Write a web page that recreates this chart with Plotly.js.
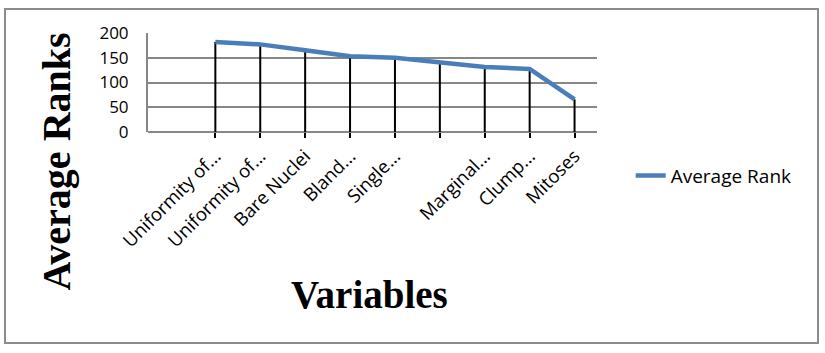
<!DOCTYPE html>
<html>
<head>
<meta charset="utf-8">
<script src="https://cdn.plot.ly/plotly-3.0.1.min.js"></script>
<style>
  html, body { margin: 0; padding: 0; background: #fff; }
  #wrap { position: relative; width: 825px; height: 353px; }
  #chart { width: 825px; height: 353px; }
  #frame { position: absolute; left: 4px; top: 8px; width: 811px; height: 332px;
           border: 2px solid #8c8c8c; pointer-events: none; }
</style>
</head>
<body>
<div id="wrap">
  <div id="chart"></div>
  <div id="frame"></div>
</div>
<script>
// category positions (position 0 is an empty leading category)
const positions = [1, 2, 3, 4, 5, 6, 7, 8, 9];
const tickLabels = ["Uniformity of...", "Uniformity of...", "Bare Nuclei", "Bland...", "Single...", "", "Marginal...", "Clump...", "Mitoses"];
const averageRank = [182, 177, 165, 153, 150, 141, 131.5, 127.5, 66];
const yTicks = [0, 50, 100, 150, 200];
const xTitle = 'Variables';
const yTitle = 'Average Ranks';
const seriesName = 'Average Rank';

const zeros = averageRank.map(() => 0);

const trace = {
  x: positions,
  y: averageRank,
  type: 'scatter',
  mode: 'lines',
  name: seriesName,
  line: { color: '#4a7ebb', width: 4.5 },
  error_y: {
    type: 'data',
    symmetric: false,
    array: zeros,
    arrayminus: averageRank,
    color: '#000000',
    thickness: 2,
    width: 0
  }
};

const serif = 'Liberation Serif, Times New Roman, serif';
const sans = 'Open Sans, sans-serif';

const layout = {
  width: 825,
  height: 353,
  margin: { l: 148, r: 228, t: 33, b: 221 },
  paper_bgcolor: '#ffffff',
  plot_bgcolor: '#ffffff',
  font: { family: sans, size: 17, color: '#000' },
  showlegend: true,
  legend: {
    x: 1.075, xanchor: 'left', y: -0.44, yanchor: 'middle',
    font: { family: sans, size: 19, color: '#000' },
    bgcolor: 'rgba(0,0,0,0)'
  },
  xaxis: {
    range: [-0.5, 9.5],
    tickmode: 'array',
    tickvals: positions,
    ticktext: tickLabels,
    tickangle: -45,
    ticks: 'outside',
    ticklen: 5,
    tickwidth: 2,
    tickcolor: '#000',
    showgrid: false,
    zeroline: false,
    showline: false,
    tickfont: { family: sans, size: 18.5, color: '#000' },
    fixedrange: true
  },
  yaxis: {
    range: [0, 200],
    tickmode: 'array',
    tickvals: yTicks,
    ticks: '',
    ticklabelstandoff: 14,
    showgrid: true,
    gridcolor: '#878787',
    gridwidth: 2,
    zeroline: true,
    zerolinecolor: '#878787',
    zerolinewidth: 2,
    showline: true,
    linecolor: '#878787',
    linewidth: 2,
    tickfont: { family: sans, size: 17, color: '#000' },
    fixedrange: true
  },
  annotations: [
    {
      text: yTitle, xref: 'paper', yref: 'paper',
      x: -0.203, y: -0.30, xanchor: 'center', yanchor: 'middle',
      textangle: -90, showarrow: false,
      font: { family: serif, size: 40, color: '#000', weight: 'bold' }
    },
    {
      text: xTitle, xref: 'paper', yref: 'paper',
      x: 0.494, y: -1.646, xanchor: 'center', yanchor: 'middle',
      showarrow: false,
      font: { family: serif, size: 39, color: '#000', weight: 'bold' }
    }
  ]
};

Plotly.newPlot('chart', [trace], layout, { displayModeBar: false, staticPlot: true });
</script>
</body>
</html>
